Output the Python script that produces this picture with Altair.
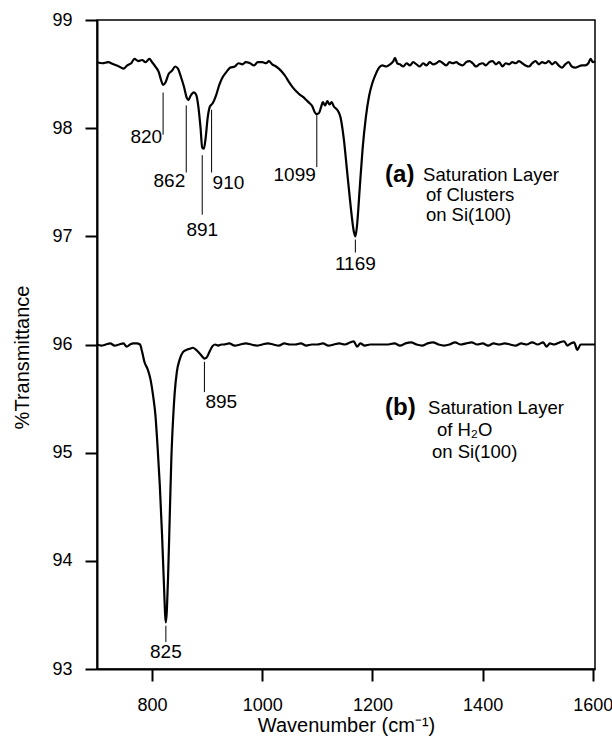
import altair as alt
import pandas as pd

# ---- spectrum (a): saturation layer of clusters on Si(100) ----
wn_a = [700, 710, 720, 730, 740, 748, 755, 762, 768, 775, 782, 788, 795, 800, 806, 812, 816, 820, 824,
        830, 836, 842, 847, 852, 858, 863, 866, 870, 876, 880, 884, 888, 891, 894, 897, 901, 905, 910,
        916, 922, 928, 935, 942, 950, 957, 964, 970, 978, 985, 992, 1000, 1007, 1012, 1018, 1025, 1030,
        1036, 1042, 1048, 1055, 1062, 1068, 1074, 1080, 1086, 1091, 1095, 1099, 1103, 1107, 1110, 1114,
        1118, 1122, 1126, 1130, 1136, 1142, 1148, 1154, 1160, 1166, 1169, 1172, 1177, 1182, 1188, 1194,
        1200, 1206, 1212, 1218, 1225, 1232, 1238, 1241, 1245, 1250, 1256, 1262, 1268, 1274, 1280, 1286,
        1292, 1298, 1304, 1310, 1316, 1322, 1328, 1334, 1340, 1346, 1352, 1358, 1364, 1370, 1376, 1382,
        1388, 1394, 1400, 1406, 1412, 1418, 1424, 1430, 1436, 1442, 1448, 1454, 1460, 1466, 1472, 1478,
        1484, 1490, 1496, 1502, 1508, 1514, 1520, 1526, 1532, 1538, 1544, 1550, 1556, 1562, 1568, 1574,
        1580, 1586, 1592, 1596, 1600, 1604]
t_a = [98.61, 98.60, 98.61, 98.59, 98.57, 98.55, 98.58, 98.60, 98.64, 98.62, 98.63, 98.61, 98.64, 98.61,
       98.57, 98.52, 98.45, 98.40, 98.42, 98.50, 98.53, 98.57, 98.55, 98.48, 98.38, 98.28, 98.26, 98.30,
       98.33, 98.31, 98.20, 98.00, 97.82, 97.81, 97.90, 98.10, 98.20, 98.23, 98.30, 98.40, 98.47, 98.52,
       98.56, 98.57, 98.60, 98.59, 98.61, 98.60, 98.58, 98.61, 98.61, 98.60, 98.62, 98.59, 98.57, 98.55,
       98.52, 98.48, 98.43, 98.38, 98.34, 98.31, 98.29, 98.26, 98.23, 98.20, 98.15, 98.13, 98.14, 98.20,
       98.24, 98.21, 98.25, 98.22, 98.24, 98.20, 98.17, 98.10, 97.90, 97.60, 97.30, 97.05, 97.00, 97.10,
       97.45, 97.80, 98.10, 98.30, 98.42, 98.50, 98.56, 98.58, 98.57, 98.59, 98.62, 98.65, 98.60, 98.59,
       98.57, 98.60, 98.58, 98.61, 98.59, 98.57, 98.60, 98.58, 98.61, 98.59, 98.60, 98.62, 98.60, 98.58,
       98.61, 98.60, 98.61, 98.59, 98.58, 98.61, 98.62, 98.60, 98.57, 98.59, 98.60, 98.58, 98.61, 98.62,
       98.59, 98.61, 98.57, 98.60, 98.59, 98.61, 98.60, 98.62, 98.60, 98.58, 98.57, 98.60, 98.62, 98.59,
       98.61, 98.60, 98.62, 98.59, 98.61, 98.58, 98.56, 98.59, 98.61, 98.57, 98.56, 98.57, 98.58, 98.58,
       98.60, 98.64, 98.61, 98.62]

# ---- spectrum (b): saturation layer of H2O on Si(100) ----
wn_b = [700, 708, 716, 724, 732, 740, 748, 754, 760, 766, 772, 778, 782, 786, 792, 797, 802, 806, 810,
        814, 818, 821, 825, 829, 832, 835, 838, 841, 845, 850, 856, 862, 868, 874, 880, 886, 891, 895,
        899, 904, 909, 914, 920, 926, 930, 940, 950, 960, 970, 980, 990, 1000, 1010, 1020, 1030, 1040,
        1050, 1060, 1070, 1080, 1090, 1100, 1110, 1120, 1130, 1140, 1150, 1160, 1166, 1172, 1178, 1186,
        1196, 1210, 1226, 1240, 1250, 1260, 1270, 1280, 1290, 1300, 1310, 1320, 1330, 1340, 1350, 1360,
        1370, 1380, 1390, 1400, 1410, 1420, 1430, 1440, 1450, 1460, 1470, 1480, 1490, 1500, 1510, 1516,
        1522, 1530, 1540, 1548, 1554, 1560, 1566, 1572, 1578, 1586, 1596, 1604]
t_b = [96.00, 95.99, 96.00, 96.01, 95.99, 96.00, 96.01, 95.98, 96.00, 96.01, 96.01, 96.00, 95.93, 95.84,
       95.77, 95.68, 95.52, 95.35, 95.05, 94.70, 94.25, 93.85, 93.43, 93.85, 94.40, 94.95, 95.30, 95.55,
       95.75, 95.86, 95.93, 95.95, 95.96, 95.97, 95.95, 95.92, 95.89, 95.87, 95.88, 95.93, 95.98, 96.00,
       95.99, 96.00, 96.00, 96.01, 95.99, 96.00, 96.01, 96.00, 95.99, 96.00, 96.01, 96.00, 95.99, 96.01,
       96.00, 96.00, 96.01, 95.99, 96.00, 96.00, 96.01, 95.99, 96.00, 96.01, 96.00, 96.02, 96.03, 95.98,
       96.01, 95.99, 96.00, 96.00, 96.00, 96.01, 95.99, 96.01, 96.02, 96.00, 95.99, 96.01, 96.02, 96.00,
       95.99, 96.00, 96.02, 96.00, 96.01, 96.02, 96.00, 96.01, 95.99, 96.01, 96.00, 96.01, 96.00, 95.99,
       96.01, 96.00, 96.02, 96.00, 96.02, 95.98, 96.01, 96.00, 96.02, 96.03, 95.99, 96.01, 96.02, 95.95,
       96.00, 96.00, 96.00, 96.00]

# ---- peak annotations ----
peak_labels = ["820", "862", "891", "910", "1099", "1169", "895", "825"]
peak_pos = [820, 862, 891, 908, 1099, 1169, 895, 825]
lead_top = [98.33, 98.21, 97.75, 98.17, 98.12, 96.97, 95.84, 93.40]
lead_bot = [97.94, 97.59, 97.20, 97.59, 97.64, 96.85, 95.56, 93.25]
label_y = [97.92, 97.51, 97.06, 97.49, 97.57, 96.74, 95.47, 93.16]
label_side = ["right", "right", "center", "left", "right", "center", "left", "center"]

# ---- panel captions ----
tag_text = ["(a)", "(b)"]
tag_x = [1223, 1223]
tag_y = [97.57, 95.41]
cap_text = ["Saturation Layer", "of Clusters", "on Si(100)",
            "Saturation Layer", "of H₂O", "on Si(100)"]
cap_x = [1292, 1297, 1297, 1301, 1317, 1308]
cap_y = [97.57, 97.385, 97.20, 95.41, 95.21, 95.01]

FONT = "Liberation Sans"

spec = pd.concat([
    pd.DataFrame({"wn": wn_a, "T": t_a, "s": "a"}),
    pd.DataFrame({"wn": wn_b, "T": t_b, "s": "b"}),
])
peaks = pd.DataFrame({"label": peak_labels, "x": peak_pos, "top": lead_top,
                      "bot": lead_bot, "ly": label_y, "side": label_side})
tags = pd.DataFrame({"text": tag_text, "x": tag_x, "y": tag_y})
caps = pd.DataFrame({"text": cap_text, "x": cap_x, "y": cap_y})

xs = alt.Scale(domain=[700, 1604], nice=False, zero=False)
ys = alt.Scale(domain=[93, 99], nice=False, zero=False)

common = dict(format="d", ticks=True, tickSize=12, tickWidth=2, tickColor="black",
              domain=True, domainColor="black", domainWidth=2, grid=False,
              labelFont=FONT, labelFontSize=18, labelColor="black",
              titleFont=FONT, titleFontSize=20, titleFontWeight="normal", titleColor="black",
              titleBaseline="alphabetic")

lines = alt.Chart(spec).mark_line(color="black", strokeWidth=2.2, interpolate="monotone").encode(
    x=alt.X("wn:Q", scale=xs,
            axis=alt.Axis(title="Wavenumber (cm⁻¹)", values=[800, 1000, 1200, 1400, 1600],
                          labelPadding=15, labelBaseline="top", titleX=249, titleY=62, **common)),
    y=alt.Y("T:Q", scale=ys,
            axis=alt.Axis(title="%Transmittance", values=[93, 94, 95, 96, 97, 98, 99],
                          labelPadding=13, labelBaseline="middle",
                          titleX=-69, titleY=337, **common)),
    detail="s:N",
)

leaders = alt.Chart(peaks).mark_rule(color="black", strokeWidth=1).encode(
    x=alt.X("x:Q", scale=xs), y=alt.Y("top:Q", scale=ys), y2="bot:Q"
)

def peak_text(side, dx):
    return alt.Chart(peaks).transform_filter(alt.datum.side == side).mark_text(
        align=side, baseline="middle", font=FONT, fontSize=19, color="black", dx=dx
    ).encode(x=alt.X("x:Q", scale=xs), y=alt.Y("ly:Q", scale=ys), text="label:N")

tag_layer = alt.Chart(tags).mark_text(
    align="left", baseline="middle", font=FONT, fontSize=24, fontWeight="bold", color="black"
).encode(x=alt.X("x:Q", scale=xs), y=alt.Y("y:Q", scale=ys), text="text:N")

cap_layer = alt.Chart(caps).mark_text(
    align="left", baseline="middle", font=FONT, fontSize=18.5, color="black"
).encode(x=alt.X("x:Q", scale=xs), y=alt.Y("y:Q", scale=ys), text="text:N")

chart = alt.layer(
    lines, leaders, peak_text("right", -1), peak_text("center", 0), peak_text("left", 1),
    tag_layer, cap_layer
).properties(
    width=498, height=649, autosize="none",
    padding={"left": 97, "top": 20, "right": 17, "bottom": 70},
).configure_view(
    stroke="black", strokeWidth=1.5
)

chart.save("out.html", embed_options={"renderer": "svg", "actions": False})
